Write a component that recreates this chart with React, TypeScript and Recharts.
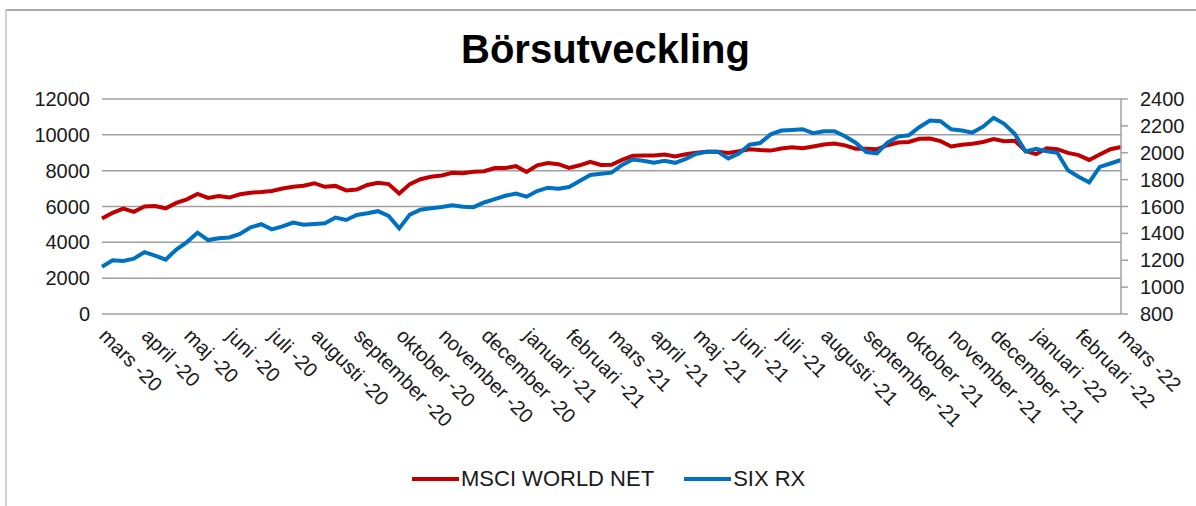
import React from 'react';
import { LineChart, Line, XAxis, YAxis, CartesianGrid } from 'recharts';

const FONT = '"Liberation Sans", Arial, Helvetica, sans-serif';

const title = 'Börsutveckling';

const monthLabels = [
  'mars -20', 'april -20', 'maj -20', 'juni -20', 'juli -20', 'augusti -20',
  'september -20', 'oktober -20', 'november -20', 'december -20', 'januari -21',
  'februari -21', 'mars -21', 'april -21', 'maj -21', 'juni -21', 'juli -21',
  'augusti -21', 'september -21', 'oktober -21', 'november -21', 'december -21',
  'januari -22', 'februari -22', 'mars -22',
];

const STEPS_PER_MONTH = 4;

const seriesNames = ['MSCI WORLD NET', 'SIX RX'];
const seriesColors = ['#C00000', '#0070C0'];

const leftTicks = [0, 2000, 4000, 6000, 8000, 10000, 12000];
const rightTicks = [800, 1000, 1200, 1400, 1600, 1800, 2000, 2200, 2400];

// MSCI WORLD NET (left axis), one reading per quarter month
const msciWorldNet = [
  5330, 5650, 5885, 5700, 6000, 6030, 5900, 6200, 6400, 6700,
  6480, 6580, 6500, 6680, 6770, 6810, 6870, 7000, 7100, 7160,
  7300, 7100, 7150, 6900, 6950, 7200, 7320, 7250, 6720, 7250,
  7520, 7660, 7730, 7880, 7860, 7940, 7970, 8150, 8150, 8250,
  7930, 8300, 8430, 8360, 8150, 8300, 8490, 8320, 8330, 8600,
  8830, 8840, 8850, 8900, 8790, 8920, 9000, 9060, 9060, 8990,
  9080, 9200, 9150, 9120, 9240, 9310, 9250, 9350, 9460, 9520,
  9410, 9230, 9230, 9190, 9420, 9570, 9600, 9780, 9790, 9650,
  9350, 9450, 9500, 9600, 9760, 9640, 9670, 9100, 8920, 9250,
  9200, 8990, 8870, 8600, 8900, 9200, 9320,
];

// SIX RX (right axis), one reading per quarter month
const sixRx = [
  1152, 1200, 1195, 1212, 1260, 1235, 1205, 1280, 1335, 1405,
  1350, 1363, 1370, 1396, 1445, 1468, 1430, 1452, 1480, 1464,
  1470, 1475, 1518, 1500, 1537, 1550, 1565, 1530, 1437, 1540,
  1576, 1587, 1597, 1610, 1598, 1595, 1630, 1655, 1680, 1697,
  1673, 1715, 1740, 1732, 1745, 1790, 1834, 1844, 1852, 1910,
  1950, 1940, 1925, 1940, 1925, 1955, 1993, 2007, 2008, 1958,
  1995, 2060, 2072, 2137, 2165, 2170, 2175, 2146, 2160, 2160,
  2123, 2075, 2005, 1996, 2075, 2120, 2130, 2190, 2240, 2235,
  2175, 2165, 2150, 2194, 2260, 2215, 2140, 2010, 2030, 2010,
  2000, 1870, 1822, 1780, 1895, 1920, 1946,
];

const data = msciWorldNet.map((v, i) => ({ t: i, msci: v, six: sixRx[i] }));
const xTicks = monthLabels.map((_, i) => i * STEPS_PER_MONTH);

const XTick = (props: any) => {
  const { x, y, payload } = props;
  const label = monthLabels[Math.round(payload.value / STEPS_PER_MONTH)] ?? '';
  const ax = x - 4;
  const ay = y + 15;
  return (
    <text
      x={ax}
      y={ay}
      transform={`rotate(45, ${ax}, ${ay})`}
      textAnchor="start"
      fontSize={20}
      fontFamily={FONT}
      fill="#1a1a1a"
    >
      {label}
    </text>
  );
};

export default function App() {
  return (
    <div
      style={{
        position: 'fixed',
        left: 0,
        top: 0,
        width: 1196,
        height: 506,
        background: '#fff',
        overflow: 'hidden',
        fontFamily: FONT,
      }}
    >
      <div style={{ position: 'absolute', left: 6, top: 9, width: 1190, height: 2, background: '#a8a8a8' }} />
      <div style={{ position: 'absolute', left: 5, top: 9, width: 2, height: 497, background: '#d0d0d0' }} />
      <div
        style={{
          position: 'absolute',
          left: 0,
          top: 25,
          width: 1211,
          textAlign: 'center',
          fontSize: 40,
          fontWeight: 'bold',
          color: '#000',
          lineHeight: '48px',
        }}
      >
        {title}
      </div>
      <div style={{ position: 'absolute', left: 0, top: 0 }}>
        <LineChart
          width={1196}
          height={506}
          data={data}
          margin={{ top: 99, right: 0, left: 0, bottom: 42 }}
        >
          <CartesianGrid yAxisId="left" horizontal vertical={false} stroke="#a0a0a0" strokeWidth={1.5} />
          <XAxis
            dataKey="t"
            type="number"
            domain={[0, (monthLabels.length - 1) * STEPS_PER_MONTH]}
            ticks={xTicks}
            interval={0}
            tick={<XTick />}
            tickLine={false}
            axisLine={false}
            height={150}
          />
          <YAxis
            yAxisId="left"
            orientation="left"
            domain={[0, 12000]}
            ticks={leftTicks}
            interval={0}
            width={102}
            axisLine={false}
            tickLine={false}
            tickMargin={6}
            tick={{ fill: '#1a1a1a', fontSize: 20, fontFamily: FONT }}
          />
          <YAxis
            yAxisId="right"
            orientation="right"
            domain={[800, 2400]}
            ticks={rightTicks}
            interval={0}
            width={75}
            axisLine={{ stroke: '#a0a0a0', strokeWidth: 1.5 }}
            tickLine={{ stroke: '#a0a0a0', strokeWidth: 1.5 }}
            tickSize={7}
            tickMargin={12}
            tick={{ fill: '#1a1a1a', fontSize: 20, fontFamily: FONT }}
          />
          <Line
            yAxisId="left"
            type="linear"
            dataKey="msci"
            name={seriesNames[0]}
            stroke={seriesColors[0]}
            strokeWidth={4}
            dot={false}
            isAnimationActive={false}
          />
          <Line
            yAxisId="right"
            type="linear"
            dataKey="six"
            name={seriesNames[1]}
            stroke={seriesColors[1]}
            strokeWidth={4}
            dot={false}
            isAnimationActive={false}
          />
        </LineChart>
      </div>
      <div
        style={{
          position: 'absolute',
          left: 412,
          top: 466,
          display: 'flex',
          alignItems: 'center',
          fontSize: 22,
          color: '#1a1a1a',
          lineHeight: '26px',
        }}
      >
        {seriesNames.map((name, i) => (
          <div key={name} style={{ display: 'flex', alignItems: 'center', marginRight: i === 0 ? 30 : 0 }}>
            <div style={{ width: 47, height: 4, background: seriesColors[i], marginRight: 2 }} />
            <span>{name}</span>
          </div>
        ))}
      </div>
    </div>
  );
}
